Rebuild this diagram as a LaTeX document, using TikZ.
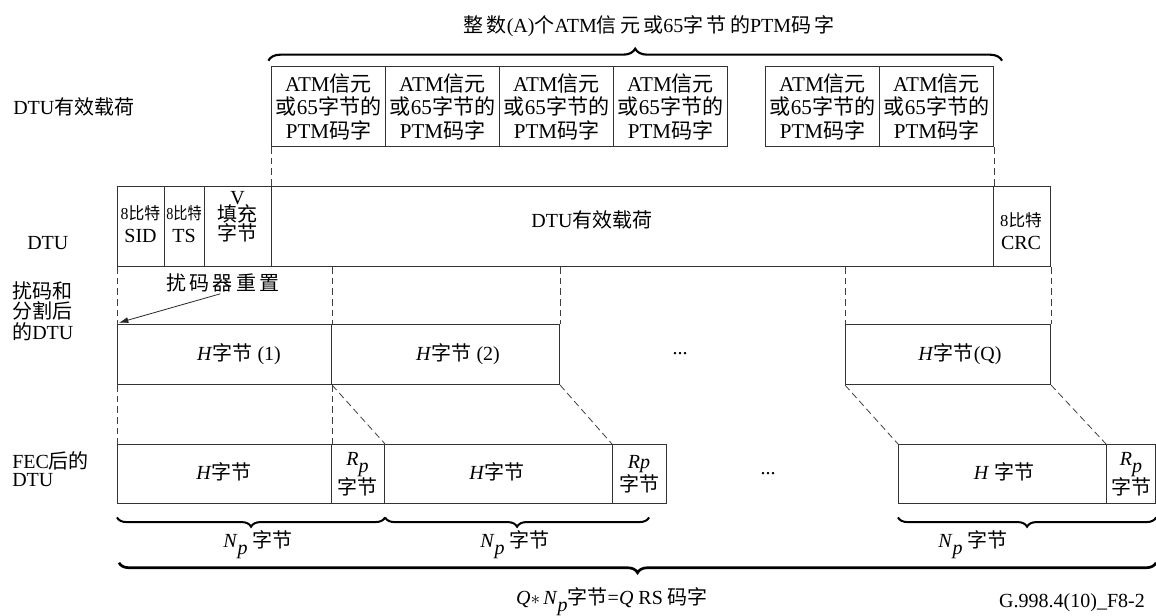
\documentclass[tikz,border=0pt]{standalone}
\usepackage{fontspec}
\setmainfont{Liberation Serif}
\newfontfamily\cjk{Noto Sans CJK SC}
\newcommand\zh[1]{{\cjk #1}}
\newcommand\subp[1]{\raisebox{-0.35em}{\textit{#1}}}
\newcommand\fs{\fontsize{15}{17.6}\selectfont}
\newcommand\fss{\fontsize{12.5}{13}\selectfont}
\usetikzlibrary{decorations.pathreplacing,arrows.meta}
\newcommand\mkcell[5]{\node[cellbox,minimum width=#4*0.75pt,minimum height=#5*0.75pt] (#1) at (#2,#3) {};}
\begin{document}
\begin{tikzpicture}[x=0.75pt,y=-0.75pt,
  cellbox/.style={draw=black!80, line width=0.8pt, inner sep=0pt, anchor=north west},
  txt/.style={inner sep=0pt, align=center, font=\fs},
  guide/.style={draw=black!75, line width=0.6pt, dash pattern=on 5pt off 3pt},
  brcup/.style={decorate, decoration={brace, amplitude=9pt}, line width=1.6pt},
  brcdn/.style={decorate, decoration={brace, mirror, amplitude=7pt}, line width=1.5pt},
  arr/.style={-{Latex[length=7pt,width=4.5pt]}, line width=0.6pt, draw=black!85}]
\useasboundingbox (0,0) rectangle (1156,615);

% title and top brace
\node[txt, anchor=base] (title) at (649,32) {\zh{整\,数}(A)\zh{个}ATM\zh{信\,元\,或}65\zh{字\,节\,的}PTM\zh{码\,字}};

% payload cells
\mkcell{tp1}{271}{66}{114}{80}
\mkcell{tp2}{385}{66}{114}{80}
\mkcell{tp3}{499}{66}{114}{80}
\mkcell{tp4}{613}{66}{114}{80}
\mkcell{tp5}{765}{66}{114}{80}
\mkcell{tp6}{879}{66}{114}{80}
\foreach \n in {tp1,tp2,tp3,tp4,tp5,tp6}
  \node[txt, font=\fontsize{15.8}{17.6}\selectfont] (\n t) at (\n.center) {ATM\zh{信元}\\\zh{或}65\zh{字节的}\\PTM\zh{码字}};
\draw[brcup] ([xshift=-2pt,yshift=4pt]tp1.north west) -- ([xshift=6pt,yshift=4pt]tp6.north east);

% left labels
\node[txt, anchor=base west] (lab1) at (13,114) {DTU\zh{有效载荷}};
\node[txt, anchor=base west] (lab2) at (27,249) {DTU};
\node[txt, anchor=north west, align=left, font=\fontsize{15}{15.5}\selectfont] (lab3) at (12,281) {\zh{扰码和}\\\zh{分割后}\\\zh{的}DTU};
\node[txt, anchor=north west, align=left, font=\fontsize{15}{13.8}\selectfont] (lab4) at (12,451) {FEC\zh{后的}\\DTU};

% DTU row
\mkcell{sid}{117}{186}{47}{80}
\mkcell{ts}{164}{186}{40}{80}
\mkcell{pad}{204}{186}{67}{80}
\mkcell{pay}{271}{186}{722}{80}
\mkcell{crc}{993}{186}{57}{80}
\node[txt] (sidt) at (140.5,224) {{\fss\scalebox{0.95}[1]{8\zh{比特}}}\\SID};
\node[txt] (tst) at (184,224) {{\fss\scalebox{0.85}[1]{8\zh{比特}}}\\TS};
\node[txt] (padt) at (237.5,217) {V\\[-5pt]\zh{填充}\\[-3pt]\zh{字节}};
\node[txt] (payt) at (592,220) {DTU\zh{有效载荷}};
\node[txt] (crct) at (1021,231) {{\fss 8\zh{比特}}\\CRC};

% scrambled row
\mkcell{s1}{117}{324}{214}{60}
\mkcell{s2}{331}{324}{228}{60}
\mkcell{sq}{845}{324}{205}{60}
\node[txt] (s1t) at (239,354) {\textit{H}\zh{字节} (1)};
\node[txt] (s2t) at (458,354) {\textit{H}\zh{字节} (2)};
\node[txt] (dots1) at (680,354) {...};
\node[txt] (sqt) at (960,354) {\textit{H}\zh{字节}(Q)};
\node[txt] (rs) at (223,283) {\zh{扰\,码\,器\,重\,置}};
\draw[arr] ([xshift=-2pt,yshift=-1pt]rs.south) -- ([xshift=1.5pt,yshift=1pt]s1.north west);

% FEC row
\mkcell{f1}{117}{444}{214}{59}
\mkcell{r1}{331}{444}{53}{59}
\mkcell{f2}{384}{444}{228}{59}
\mkcell{r2}{612}{444}{54}{59}
\mkcell{f3}{898}{444}{208}{59}
\mkcell{r3}{1106}{444}{49}{59}
\node[txt] (f1t) at (224,472) {\textit{H}\zh{字节}};
\node[txt] (r1t) at (357.5,474) {\textit{R}\subp{p}\\\zh{字节}};
\node[txt] (f2t) at (497,472) {\textit{H}\zh{字节}};
\node[txt] (r2t) at (639,474) {\textit{Rp}\\\zh{字节}};
\node[txt] (dots2) at (768,474) {...};
\node[txt] (f3t) at (1004,472) {\textit{H} \zh{字节}};
\node[txt] (r3t) at (1131,474) {\textit{R}\subp{p}\\\zh{字节}};

% dashed guides
\draw[guide] (tp1.south west) -- (pay.north west);
\draw[guide] (tp6.south east) -- (pay.north east);
\draw[guide] (sid.south west) -- (s1.north west);
\draw[guide] (s1.north east |- pay.south) -- (s1.north east);
\draw[guide] (s2.north east |- pay.south) -- (s2.north east);
\draw[guide] (sq.north west |- pay.south) -- (sq.north west);
\draw[guide] (crc.south east) -- (sq.north east);
\draw[guide] (s1.south west) -- (f1.north west);
\draw[guide] (s1.south east) -- (f1.north east);
\draw[guide] (s1.south east) -- (r1.north east);
\draw[guide] (s2.south east) -- (r2.north west);
\draw[guide] (sq.south west) -- (f3.north west);
\draw[guide] (sq.south east) -- (r3.north west);

% bottom braces
\draw[brcdn] ([yshift=-10pt]f1.south west) -- ([yshift=-10pt]r1.south east);
\draw[brcdn] ([yshift=-10pt]r1.south east) -- ([xshift=-13.5pt,yshift=-10pt]r2.south east);
\draw[brcdn] ([yshift=-10pt]f3.south west) -- ([yshift=-10pt]r3.south east);
\draw[brcdn, line width=2pt, decoration={amplitude=7.5pt}] ([xshift=1.5pt,yshift=-44pt]f1.south west) -- ([yshift=-44pt]r3.south east);
\node[txt, anchor=base] (np1) at (258,547) {\textit{N}\subp{p} \zh{字节}};
\node[txt, anchor=base] (np2) at (515,547) {\textit{N}\subp{p} \zh{字节}};
\node[txt, anchor=base] (np3) at (973,547) {\textit{N}\subp{p} \zh{字节}};
\node[txt, anchor=base] (tot) at (612,604) {\textit{Q}$\ast$\,\textit{N}\subp{p}\zh{字节}=\textit{Q} RS \zh{码字}};
\node[txt, anchor=base] (figid) at (1072,607) {G.998.4(10)\_F8-2};
\end{tikzpicture}
\end{document}
